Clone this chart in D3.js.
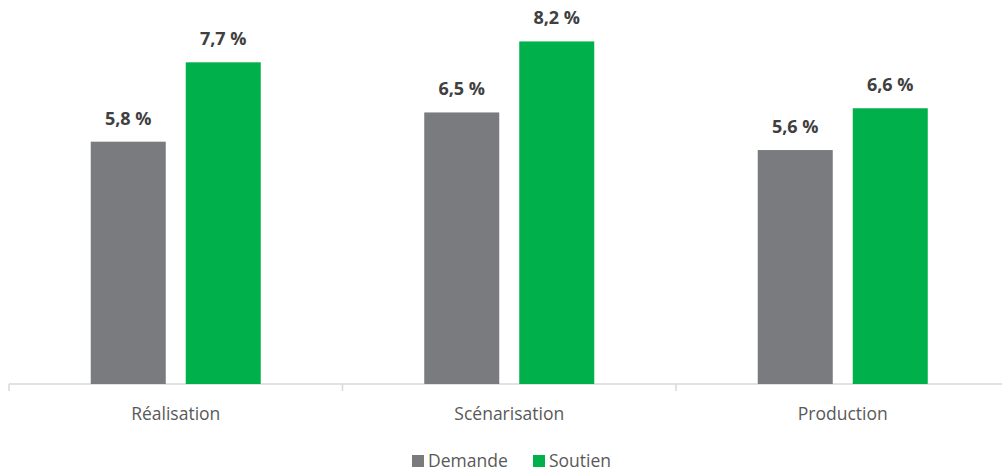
<!DOCTYPE html>
<html>
<head>
<meta charset="utf-8">
<script src="https://cdn.jsdelivr.net/npm/d3@7"></script>
<style>
  body { margin: 0; background: #fff; }
  svg { display: block; font-family: "Open Sans", sans-serif; }
</style>
</head>
<body>
<svg id="chart" width="1002" height="472"></svg>
<script>
var categories = ["Réalisation", "Scénarisation", "Production"];
var series = ["Demande", "Soutien"];
var demande = [5.8, 6.5, 5.6];
var soutien = [7.7, 8.2, 6.6];
var colors = ["#797b7f", "#00b04a"];

var data = categories.map(function(c, i) {
  return { cat: c, values: [demande[i], soutien[i]] };
});

var svg = d3.select("#chart");

var axisY = 384;

var x0 = d3.scaleBand().domain(categories).range([9, 1009.5]).padding(0);
var x1 = d3.scaleBand().domain(series).range([0, x0.bandwidth()])
    .paddingInner(0.2105).paddingOuter(0.8605);
var y = d3.scaleLinear().domain([0, 9]).range([axisY, 8]);

// axis line
var xAxis = d3.axisBottom(x0).tickSize(0).tickFormat("");
var gx = svg.append("g")
    .attr("transform", "translate(0," + axisY + ")")
    .call(xAxis);
gx.select(".domain").remove();
gx.append("line")
    .attr("x1", 9).attr("x2", 1002)
    .attr("stroke", "#d9d9d9").attr("stroke-width", 1.5);
gx.selectAll(".sep")
    .data(categories)
  .enter().append("line")
    .attr("class", "sep")
    .attr("x1", function(d) { return x0(d); })
    .attr("x2", function(d) { return x0(d); })
    .attr("y1", 0).attr("y2", 7)
    .attr("stroke", "#d9d9d9").attr("stroke-width", 1.5);

var groups = svg.selectAll(".grp")
    .data(data)
  .enter().append("g")
    .attr("class", "grp")
    .attr("transform", function(d) { return "translate(" + x0(d.cat) + ",0)"; });

groups.selectAll("rect")
    .data(function(d) { return d.values.map(function(v, i) { return { s: series[i], v: v, i: i }; }); })
  .enter().append("rect")
    .attr("x", function(d) { return x1(d.s); })
    .attr("width", x1.bandwidth())
    .attr("y", function(d) { return y(d.v); })
    .attr("height", function(d) { return axisY - y(d.v); })
    .style("fill", function(d) { return colors[d.i]; });

groups.selectAll(".lbl")
    .data(function(d) { return d.values.map(function(v, i) { return { s: series[i], v: v }; }); })
  .enter().append("text")
    .attr("class", "lbl")
    .attr("x", function(d) { return x1(d.s) + x1.bandwidth() / 2; })
    .attr("y", function(d) { return y(d.v) - 17; })
    .attr("text-anchor", "middle")
    .attr("font-size", "18px")
    .attr("font-weight", "bold")
    .attr("fill", "#404040")
    .text(function(d) { return d.v.toFixed(1).replace(".", ",") + " %"; });

// category labels
svg.selectAll(".cat")
    .data(categories)
  .enter().append("text")
    .attr("class", "cat")
    .attr("x", function(d) { return x0(d) + x0.bandwidth() / 2; })
    .attr("y", 420)
    .attr("text-anchor", "middle")
    .attr("font-size", "17.5px")
    .attr("fill", "#595959")
    .text(function(d) { return d; });

// legend
var legendX = [412, 533];
var leg = svg.selectAll(".leg")
    .data(series)
  .enter().append("g")
    .attr("class", "leg")
    .attr("transform", function(d, i) { return "translate(" + legendX[i] + ",455)"; });
leg.append("rect")
    .attr("width", 12).attr("height", 12)
    .style("fill", function(d, i) { return colors[i]; });
leg.append("text")
    .attr("x", 16).attr("y", 12)
    .attr("font-size", "17.5px")
    .attr("fill", "#595959")
    .text(function(d) { return d; });
</script>
</body>
</html>
